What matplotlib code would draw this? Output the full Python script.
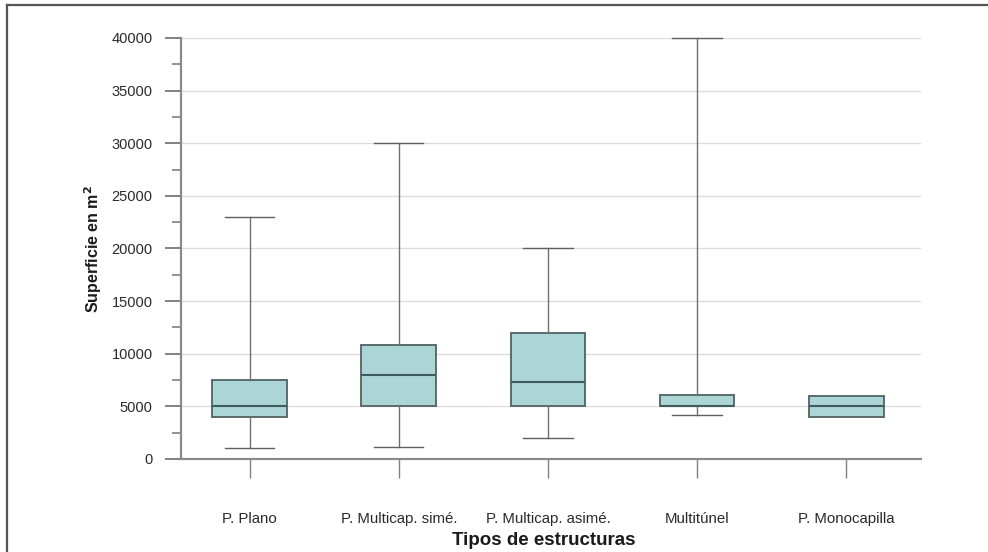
import matplotlib
matplotlib.use("Agg")
import matplotlib.pyplot as plt
from matplotlib.ticker import MultipleLocator
from matplotlib.lines import Line2D

plt.rcParams['font.family'] = ['Liberation Sans', 'DejaVu Sans']

categorias = ['P. Plano', 'P. Multicap. simé.', 'P. Multicap. asimé.', 'Multitúnel', 'P. Monocapilla']
minimos = [1000, 1100, 2000, 4200, 4000]
q1 = [4000, 5000, 5000, 5000, 4000]
medianas = [5000, 8000, 7300, 5000, 5000]
q3 = [7500, 10800, 12000, 6100, 6000]
maximos = [23000, 30000, 20000, 40000, 6000]

stats = []
for nombre, lo, a, m, b, hi in zip(categorias, minimos, q1, medianas, q3, maximos):
    stats.append(dict(label=nombre, whislo=lo, q1=a, med=m, q3=b, whishi=hi))

fig = plt.figure(figsize=(9.88, 5.52), dpi=100)
ax = fig.add_axes([0.1832, 0.1685, 0.7488, 0.7627])

pos = list(range(1, len(categorias) + 1))
bp = ax.bxp(stats, positions=pos, widths=0.5, patch_artist=True, showfliers=False,
            boxprops=dict(facecolor='#acd6d6', edgecolor='#4f6262', linewidth=1.3),
            medianprops=dict(color='#3f5c5c', linewidth=1.5),
            whiskerprops=dict(color='#707070', linewidth=1.0),
            capprops=dict(color='#606060', linewidth=1.0),
            capwidths=0.33, zorder=3)
for art in bp['caps'] + bp['whiskers']:
    art.set_clip_on(False)

# sin bigotes cuando coinciden con la caja
for i, s in enumerate(stats):
    if s['whislo'] == s['q1']:
        bp['caps'][2 * i].set_visible(False)
    if s['whishi'] == s['q3']:
        bp['caps'][2 * i + 1].set_visible(False)

ax.set_xlim(0.54, 5.5)
ax.set_ylim(0, 40000)
ax.yaxis.set_major_locator(MultipleLocator(5000))
ax.yaxis.set_minor_locator(MultipleLocator(2500))
ax.grid(axis='y', which='major', color='#dcdcdc', linewidth=1.0, zorder=0)
ax.set_axisbelow(True)

for s in ['top', 'right']:
    ax.spines[s].set_visible(False)
for s in ['left', 'bottom']:
    ax.spines[s].set_color('#8a8a8a')
    ax.spines[s].set_linewidth(1.6)

ax.tick_params(axis='y', which='major', length=11.5, width=1.4, color='#808080',
               labelsize=10.5, labelcolor='#2a2a2a', pad=9)
ax.tick_params(axis='y', which='minor', length=6.5, width=1.2, color='#808080')
ax.tick_params(axis='x', length=14, width=1.0, color='#808080',
               labelsize=10.8, labelcolor='#2a2a2a', pad=24)
ax.set_xticks(pos)
ax.set_xticklabels(categorias)

ax.set_xlabel('Tipos de estructuras', fontsize=13.5, fontweight='bold', color='#1a1a1a')
ax.xaxis.set_label_coords(0.49, -0.173)
ax.set_ylabel('Superficie en m$^{\\mathbf{2}}$', fontsize=11.5, fontweight='bold', color='#1a1a1a', labelpad=5)

# marco exterior
fig.add_artist(Line2D([7 / 988, 1.0], [1 - 5 / 552, 1 - 5 / 552], transform=fig.transFigure,
                      color='#555555', linewidth=1.6))
fig.add_artist(Line2D([7 / 988, 7 / 988], [0, 1 - 5 / 552], transform=fig.transFigure,
                      color='#555555', linewidth=1.6))

fig.savefig('out.png', dpi=100)
